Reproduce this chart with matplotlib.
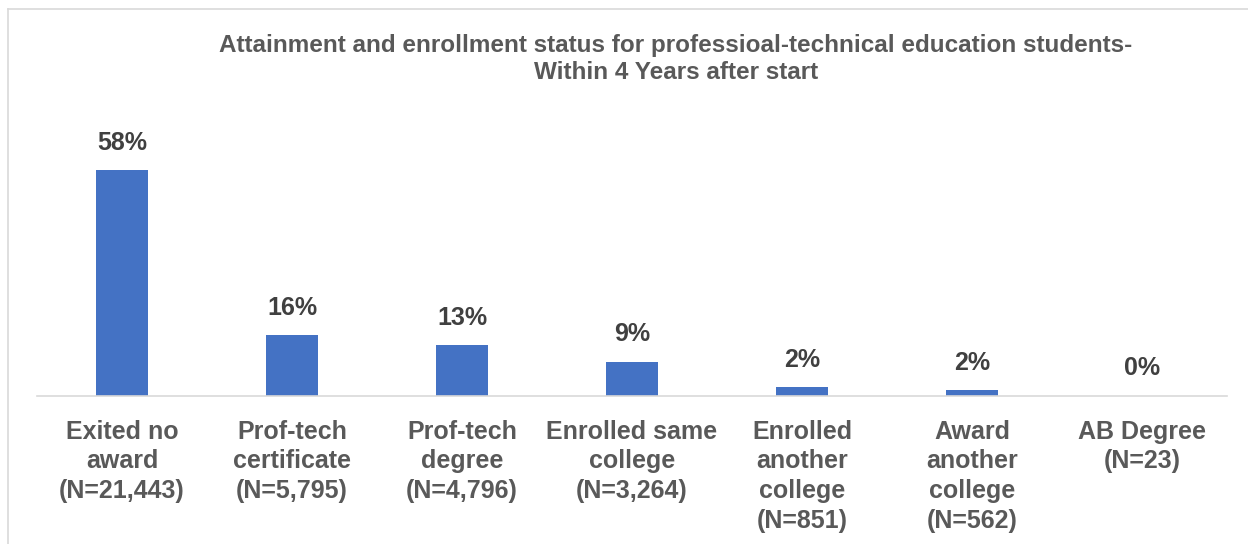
import matplotlib.pyplot as plt
from matplotlib.lines import Line2D

categories = ['Exited no\naward', 'Prof-tech\ncertificate', 'Prof-tech\ndegree',
              'Enrolled same\ncollege', 'Enrolled\nanother\ncollege',
              'Award\nanother\ncollege', 'AB Degree']
counts = [21443, 5795, 4796, 3264, 851, 562, 23]
percent = [58.4, 15.8, 13.1, 8.9, 2.3, 1.5, 0.06]
pct_labels = ['58%', '16%', '13%', '9%', '2%', '2%', '0%']

title = ('Attainment and enrollment status for professioal-technical education students-\n'
         'Within 4 Years after start')

W, H = 1248, 544
fig = plt.figure(figsize=(W / 100, H / 100), dpi=100)
fig.patch.set_facecolor('white')

# chart frame (only top and left edges visible in the crop)
fig.add_artist(Line2D([8 / W, 1], [1 - 9 / H, 1 - 9 / H], color='#d9d9d9', lw=1.2))
fig.add_artist(Line2D([8 / W, 8 / W], [0, 1 - 9 / H], color='#d9d9d9', lw=1.2))

ax = fig.add_axes([37 / W, (H - 396) / H, 1190 / W, 271 / H])
xx = range(len(categories))
ax.bar(xx, percent, width=0.31, color='#4472c4')
ax.set_xlim(-0.5, len(categories) - 0.5)
ax.set_ylim(0, 70)

for x, p, lab in zip(xx, percent, pct_labels):
    ax.annotate(lab, (x, p), xytext=(0, 11), textcoords='offset points',
                ha='center', va='bottom', fontsize=18, fontweight='bold',
                color='#404040', family='Liberation Sans')

ticklabels = [c + '\n(N={:,})'.format(n) for c, n in zip(categories, counts)]
ax.set_xticks(list(xx))
ax.set_xticklabels(ticklabels, fontsize=18, fontweight='bold', color='#595959',
                   family='Liberation Sans', linespacing=1.3, va='top')
ax.tick_params(axis='x', length=0, pad=17)
ax.set_yticks([])
for s in ['top', 'right', 'left']:
    ax.spines[s].set_visible(False)
ax.spines['bottom'].set_color('#d9d9d9')
ax.spines['bottom'].set_linewidth(1.2)

fig.text(676 / W, 1 - 59 / H, title, ha='center', va='center', fontsize=17.5,
         fontweight='bold', color='#595959', family='Liberation Sans',
         linespacing=1.25)

fig.savefig('out.png', dpi=100)
